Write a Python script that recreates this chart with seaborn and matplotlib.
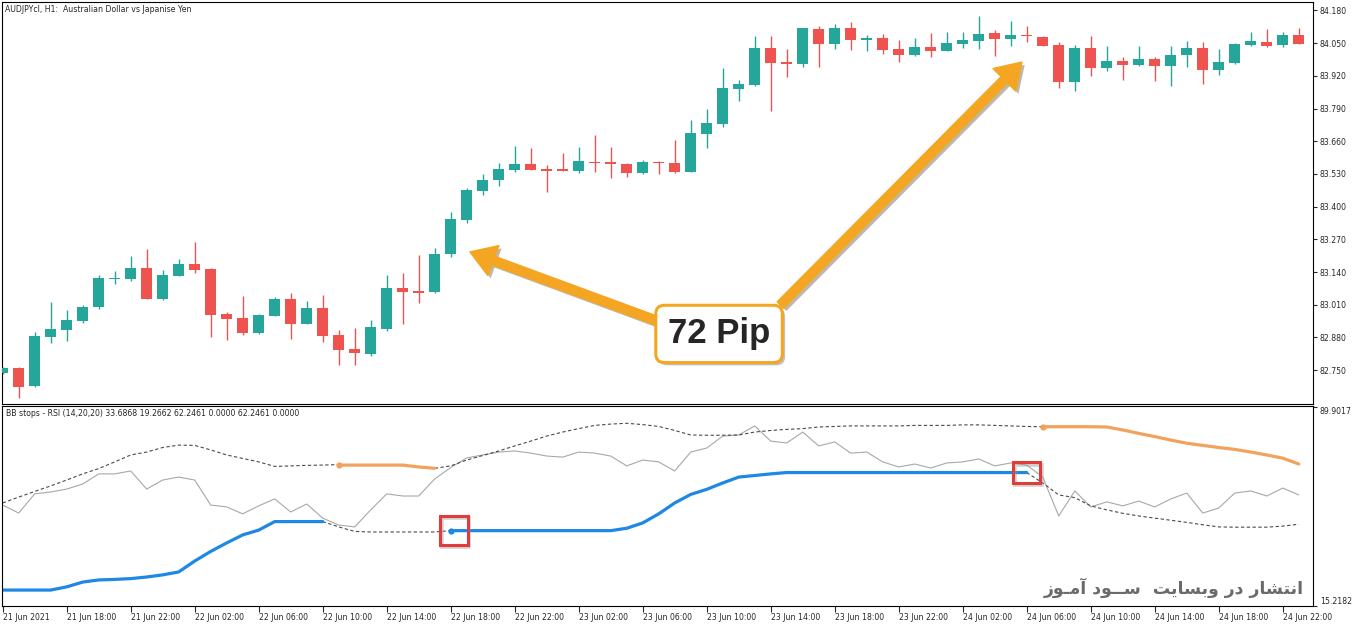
import numpy as np
import pandas as pd
import matplotlib
matplotlib.use("Agg")
import matplotlib.pyplot as plt
import matplotlib.patheffects as pe
from matplotlib.patches import Rectangle
import seaborn as sns

# H1 candles of AUDJPY, first bar = 21 Jun 2021 14:00
opens = [82.739, 82.759, 82.687, 82.883, 82.910, 82.947, 83.001, 83.114, 83.114, 83.155,
         83.033, 83.126, 83.172, 83.152, 82.973, 82.957, 82.899, 82.966, 83.033, 82.935,
         82.997, 82.890, 82.833, 82.814, 82.912, 83.077, 83.065, 83.061, 83.212, 83.347,
         83.462, 83.506, 83.546, 83.570, 83.549, 83.550, 83.542, 83.578, 83.578, 83.570,
         83.533, 83.579, 83.574, 83.539, 83.690, 83.730, 83.869, 83.884, 84.031, 83.975,
         83.967, 84.106, 84.048, 84.110, 84.064, 84.071, 84.027, 84.003, 84.035, 84.019,
         84.047, 84.060, 84.091, 84.065, 84.084, 84.075, 84.043, 83.897, 84.031, 83.953,
         83.979, 83.963, 83.987, 83.959, 84.003, 84.031, 83.943, 83.972, 84.044, 84.055,
         84.043, 84.081]
highs = [82.763, 82.764, 82.903, 83.022, 82.989, 83.009, 83.128, 83.144, 83.204, 83.231,
         83.148, 83.191, 83.261, 83.157, 82.982, 83.045, 82.973, 83.042, 83.058, 83.026,
         83.049, 82.910, 82.916, 82.949, 83.128, 83.137, 83.208, 83.234, 83.378, 83.473,
         83.529, 83.575, 83.642, 83.632, 83.566, 83.612, 83.638, 83.685, 83.636, 83.575,
         83.586, 83.582, 83.665, 83.745, 83.787, 83.953, 83.902, 84.080, 84.080, 84.026,
         84.110, 84.118, 84.125, 84.135, 84.083, 84.085, 84.063, 84.072, 84.092, 84.093,
         84.093, 84.158, 84.102, 84.138, 84.120, 84.080, 84.054, 84.043, 84.080, 84.040,
         83.996, 84.039, 83.994, 84.039, 84.059, 84.055, 84.026, 84.050, 84.093, 84.106,
         84.093, 84.109]
lows = [82.735, 82.639, 82.683, 82.858, 82.867, 82.939, 82.993, 83.091, 83.105, 83.031,
        83.029, 83.124, 83.137, 82.883, 82.870, 82.889, 82.895, 82.965, 82.874, 82.934,
        82.863, 82.771, 82.771, 82.807, 82.907, 82.934, 83.018, 83.056, 83.201, 83.334,
        83.446, 83.483, 83.539, 83.544, 83.460, 83.542, 83.535, 83.539, 83.515, 83.517,
        83.529, 83.529, 83.533, 83.537, 83.634, 83.718, 83.820, 83.881, 83.780, 83.917,
        83.957, 83.957, 84.027, 84.024, 84.020, 84.008, 83.974, 84.000, 83.995, 84.017,
        84.030, 84.027, 84.000, 84.039, 84.056, 84.039, 83.873, 83.861, 83.921, 83.941,
        83.904, 83.959, 83.900, 83.880, 83.954, 83.888, 83.924, 83.967, 84.040, 84.036,
        84.036, 84.047]
closes = [82.759, 82.683, 82.886, 82.914, 82.949, 83.001, 83.115, 83.116, 83.155, 83.034,
          83.128, 83.172, 83.148, 82.969, 82.955, 82.899, 82.969, 83.033, 82.935, 82.997,
          82.887, 82.830, 82.817, 82.920, 83.077, 83.062, 83.056, 83.212, 83.351, 83.466,
          83.506, 83.550, 83.570, 83.546, 83.542, 83.543, 83.582, 83.574, 83.568, 83.533,
          83.576, 83.572, 83.539, 83.693, 83.733, 83.872, 83.888, 84.031, 83.972, 83.966,
          84.110, 84.048, 84.110, 84.064, 84.072, 84.024, 84.003, 84.035, 84.019, 84.051,
          84.063, 84.087, 84.065, 84.083, 84.077, 84.040, 83.897, 84.031, 83.953, 83.979,
          83.963, 83.986, 83.959, 84.003, 84.031, 83.943, 83.975, 84.047, 84.059, 84.040,
          84.081, 84.048]

# RSI(14) under the chart
rsi = [53.1, 50.1, 57.3, 58.0, 59.1, 61.0, 64.8, 64.8, 65.9, 59.1,
       62.5, 63.6, 62.5, 53.1, 52.4, 49.8, 52.8, 55.4, 50.5, 53.5,
       48.2, 45.6, 44.9, 51.3, 57.3, 56.5, 56.5, 62.9, 67.2, 70.8,
       71.9, 73.0, 73.4, 72.6, 71.5, 71.1, 73.0, 72.6, 71.5, 67.8,
       70.0, 69.3, 65.9, 73.0, 74.5, 79.0, 79.4, 82.8, 77.1, 76.4,
       80.5, 75.3, 76.8, 72.6, 73.0, 69.3, 67.4, 68.5, 67.0, 68.9,
       69.3, 70.4, 67.8, 68.9, 68.1, 63.6, 49.0, 58.4, 52.4, 54.3,
       52.8, 54.6, 52.4, 55.4, 57.6, 50.1, 52.0, 57.6, 58.4, 56.5,
       59.5, 56.9]

# BB stop segments: (first bar index, values)
buy_stop_1 = (0, [21.2, 21.2, 21.2, 21.2, 22.4, 24.2, 25.0, 25.2, 25.5, 26.1, 26.9,
                  28.0, 32.1, 35.7, 38.9, 41.9, 43.7, 46.9, 46.9, 46.9, 46.9])
buy_stop_2 = (28, [43.5] * 11 + [44.4, 46.4, 49.8, 53.9, 57.1, 59.0, 61.4, 63.6, 64.2,
                                 64.8, 65.3] + [65.3] * 15)
sell_stop_1 = (21, [68.1, 68.1, 68.1, 68.1, 68.1, 67.4, 66.9])
sell_stop_2 = (65, [82.5, 82.5, 82.5, 82.5, 82.4, 81.3, 80.0, 78.8, 77.5, 76.3, 75.5,
                    74.7, 74.0, 73.0, 71.9, 70.7, 68.5])
band_up_1 = (0, [53.9, 56.1, 58.2, 60.3, 62.5, 64.8, 66.8, 69.3, 71.9, 73.0, 74.7, 75.6,
                 75.5, 73.8, 71.9, 70.6, 69.3, 67.6, 67.8, 68.0, 68.1, 68.3])
band_up_2 = (27, [66.9, 67.8, 70.0, 71.7, 73.4, 75.3, 77.1, 79.0, 80.5, 81.8, 83.0, 83.5,
                  83.8, 83.3, 82.6, 81.1, 79.4, 79.3, 79.3, 79.4, 80.5, 81.1, 81.5, 81.8,
                  82.4, 82.6, 82.8, 82.8, 82.8, 82.8, 83.0, 83.0, 83.0, 83.2, 83.2, 83.0,
                  82.8, 82.6, 82.5])
band_dn_1 = (20, [46.9, 44.9, 43.2, 43.0, 43.0, 43.0, 43.0, 43.0, 43.5])
band_dn_2 = (64, [65.3, 61.4, 56.9, 55.9, 52.8, 51.3, 50.0, 49.0, 48.2, 47.4, 46.6, 45.7,
                  44.9, 44.8, 44.8, 44.8, 45.2, 45.9])

price_ticks = [82.75, 82.88, 83.01, 83.14, 83.27, 83.40, 83.53, 83.66, 83.79, 83.92, 84.05, 84.18]
time_labels = ["21 Jun 2021", "21 Jun 18:00", "21 Jun 22:00", "22 Jun 02:00", "22 Jun 06:00",
               "22 Jun 10:00", "22 Jun 14:00", "22 Jun 18:00", "22 Jun 22:00", "23 Jun 02:00",
               "23 Jun 06:00", "23 Jun 10:00", "23 Jun 14:00", "23 Jun 18:00", "23 Jun 22:00",
               "24 Jun 02:00", "24 Jun 06:00", "24 Jun 10:00", "24 Jun 14:00", "24 Jun 18:00",
               "24 Jun 22:00"]

TEAL = "#26a69a"
RED = "#ef5350"
BLUE = "#1e88e5"
ORANGE = "#f2a25c"
GOLD = "#f4a622"

sns.set_style("white")
plt.rcParams["font.family"] = ["DejaVu Sans"]

W, H = 1362, 628
fig = plt.figure(figsize=(W / 100, H / 100), dpi=100)


def px_rect(x0, y0, x1, y1):
    return [x0 / W, 1 - y1 / H, (x1 - x0) / W, (y1 - y0) / H]


ax = fig.add_axes(px_rect(2, 2, 1313, 404))
ax2 = fig.add_axes(px_rect(2, 406, 1313, 606))

# --- candles ---
df = pd.DataFrame({"open": opens, "high": highs, "low": lows, "close": closes})
df["x"] = np.arange(len(df))
colors = np.where(df["close"] >= df["open"], TEAL, RED)
ax.vlines(df["x"], df["low"], df["high"], colors=colors, lw=1.0, zorder=2)
body_low = np.minimum(df["open"], df["close"])
body_h = np.maximum((df["close"] - df["open"]).abs(), 0.0035)
ax.bar(df["x"], body_h, bottom=body_low, width=0.68, color=colors, linewidth=0, zorder=3)

xlim = (-0.044, 81.89)
ax.set_xlim(*xlim)
ax.set_ylim(82.6154, 84.2137)
ax.set_xticks([])
ax.yaxis.tick_right()
ax.set_yticks(price_ticks)
ax.set_yticklabels([f"{p:.3f}" for p in price_ticks])
ax.tick_params(axis="y", direction="out", length=3, width=0.8, pad=2, labelsize=5.6, right=True)

# --- arrows + label ---
arrow_kw = dict(arrowstyle="simple,head_length=1.8,head_width=2.3,tail_width=0.65",
                color=GOLD, mutation_scale=10, shrinkA=0, shrinkB=0,
                path_effects=[pe.withSimplePatchShadow(offset=(2, -2), alpha=0.35)])
ax.annotate("", xy=(29.2, 83.220), xytext=(41.1, 82.941), arrowprops=arrow_kw, zorder=5)
ax.annotate("", xy=(63.7, 83.975), xytext=(48.6, 83.009), arrowprops=arrow_kw, zorder=5)
t = ax.text(44.77, 82.894, "72 Pip", ha="center", va="center", fontsize=25,
            fontweight="bold", family="Liberation Sans", zorder=6,
            bbox=dict(boxstyle="round,pad=0.35,rounding_size=0.25", fc="white", ec=GOLD, lw=2.2))
t.get_bbox_patch().set_path_effects([pe.withSimplePatchShadow(offset=(2, -2), alpha=0.35)])

fig.text(5 / W, 1 - 9 / H, "AUDJPYcl, H1:  Australian Dollar vs Japanise Yen",
         fontsize=5.6, va="center", ha="left")

# --- indicator ---
x_all = np.arange(len(rsi))
sns.lineplot(x=x_all, y=rsi, ax=ax2, color="#a8a8a8", lw=0.8, estimator=None)


def seg(data, **kw):
    start, vals = data
    xs = np.arange(start, start + len(vals))
    sns.lineplot(x=xs, y=vals, ax=ax2, estimator=None, **kw)
    return xs, vals


for band in (band_up_1, band_up_2, band_dn_1, band_dn_2):
    seg(band, color="#4a4a4a", lw=0.8)
    ax2.lines[-1].set_dashes((3, 2.2))

for stop, col in ((buy_stop_1, BLUE), (buy_stop_2, BLUE), (sell_stop_1, ORANGE), (sell_stop_2, ORANGE)):
    xs, vals = seg(stop, color=col, lw=2.3)
    if stop[0] > 0:
        ax2.plot(xs[0], vals[0], "o", color=col, ms=4.5, mec="none", zorder=4)

# highlight boxes around the stop switches (with a soft outline shadow)
for cx, cy, w, h in ((28.2, 43.5, 1.7, 10.9), (64.0, 65.3, 1.7, 7.6)):
    sh = Rectangle((cx - w / 2 + 0.1, cy - h / 2 - 0.8), w, h, fill=False, ec="#9a9a9a",
                   lw=2.6, alpha=0.45, zorder=5)
    ax2.add_patch(sh)
    r = Rectangle((cx - w / 2, cy - h / 2), w, h, fill=False, ec="#e03c3c", lw=2.2, zorder=6)
    ax2.add_patch(r)

ax2.set_xlim(*xlim)
ax2.set_ylim(15.2182, 90.28)
ax2.set_xlabel("")
ax2.set_ylabel("")
ax2.set_xticks(np.arange(0, 81, 4))
ax2.set_xticklabels(time_labels, ha="left")
ax2.tick_params(axis="x", direction="out", length=4, width=0.8, pad=1, labelsize=5.6, bottom=True)
ax2.yaxis.tick_right()
ax2.set_yticks([15.2182, 89.9017])
ax2.set_yticklabels(["15.2182", "89.9017"])
ax2.tick_params(axis="y", direction="out", length=3, width=0.8, pad=2, labelsize=5.6, right=True)
ylabs = ax2.get_yticklabels()
ylabs[0].set_va("bottom")
ylabs[1].set_va("top")

ax2.text(0.003, 0.985, "BB stops - RSI (14,20,20) 33.6868 19.2662 62.2461 0.0000 62.2461 0.0000",
         transform=ax2.transAxes, fontsize=5.6, va="top", ha="left")

# watermark (Persian, shaped presentation forms in visual order)
wm = ("\uFEAF\uFEEE\u0640\uFEE3\uFE81 \uFEA9\uFEEE\u0640\u0640\uFEB3  "
      "\uFE96\uFBFE\uFE8E\uFEB4\uFE91\uFEED \uFEAD\uFEA9 \uFEAD\uFE8E\uFEB8\uFE98\uFEE7\uFE8D")
ax2.text(0.993, 0.09, wm, transform=ax2.transAxes, ha="right", va="center", fontsize=12.4,
         fontweight="bold", color="#5a5a5a", alpha=0.9, family=["DejaVu Sans"])

for a in (ax, ax2):
    for s in a.spines.values():
        s.set_color("black")
        s.set_linewidth(0.8)

fig.savefig("out.png", dpi=100, facecolor="white")
